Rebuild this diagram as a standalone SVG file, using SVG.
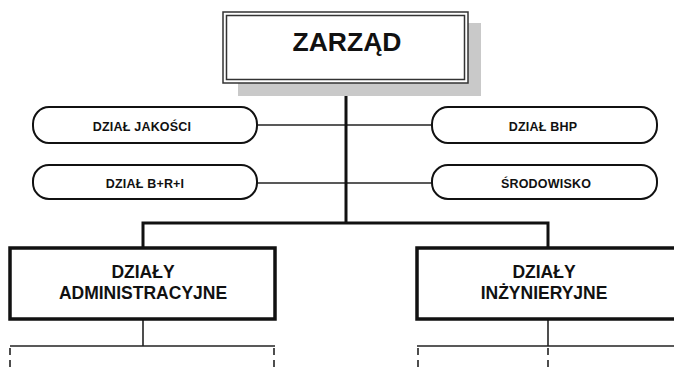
<svg xmlns="http://www.w3.org/2000/svg" width="674" height="369" viewBox="0 0 674 369">
  <style>
    .txt { font-family: "Liberation Sans", Arial, sans-serif; font-weight: bold; fill: #111; text-anchor: middle; }
    .small { font-size: 12.5px; letter-spacing: 0.2px; }
    .pill { fill: #fff; stroke: #111; stroke-width: 2; }
    .box { fill: #fff; stroke: #111; stroke-width: 3.5; }
    .thin { stroke: #222; stroke-width: 1.6; fill: none; }
    .thick { stroke: #111; stroke-width: 3; fill: none; }
    .dash { stroke: #222; stroke-width: 1.6; stroke-dasharray: 7 5; fill: none; }
  </style>
  <rect width="674" height="369" fill="#fff"/>

  <!-- connectors -->
  <g id="connectors">
    <line class="thin" x1="257" y1="125" x2="432" y2="125"/>
    <line class="thin" x1="257" y1="183" x2="432" y2="183"/>
    <line class="thick" x1="346" y1="82" x2="346" y2="223"/>
    <polyline class="thick" points="143,247 143,223 548,223 548,247"/>
    <line class="thin" x1="143" y1="320" x2="143" y2="346"/>
    <line class="thin" x1="548" y1="320" x2="548" y2="346"/>
    <line class="thin" x1="10" y1="346" x2="275" y2="346"/>
    <line class="thin" x1="417" y1="346" x2="674" y2="346"/>
    <line class="dash" x1="10" y1="348" x2="10" y2="369"/>
    <line class="dash" x1="274" y1="348" x2="274" y2="369"/>
    <line class="dash" x1="418" y1="348" x2="418" y2="369"/>
    <line class="dash" x1="548" y1="348" x2="548" y2="369"/>
  </g>

  <!-- top node with drop shadow and double frame -->
  <g id="zarzad">
    <rect x="238" y="23" width="243" height="73" fill="#c9c9c9"/>
    <rect x="223" y="12" width="245" height="71" fill="#fff" stroke="#333" stroke-width="1.5"/>
    <rect x="226.5" y="15.5" width="238" height="64" fill="none" stroke="#333" stroke-width="1.5"/>
    <text class="txt" x="347" y="51" font-size="26.5">ZARZĄD</text>
  </g>

  <g id="dzial-jakosci">
    <rect class="pill" x="33" y="107" width="224" height="36" rx="16" ry="17"/>
    <text class="txt small" x="142" y="131">DZIAŁ JAKOŚCI</text>
  </g>
  <g id="dzial-brl">
    <rect class="pill" x="33" y="165" width="224" height="34" rx="16" ry="16"/>
    <text class="txt small" x="145" y="188">DZIAŁ  B+R+I</text>
  </g>
  <g id="dzial-bhp">
    <rect class="pill" x="432" y="107" width="225" height="36" rx="16" ry="17"/>
    <text class="txt small" x="543" y="131">DZIAŁ  BHP</text>
  </g>
  <g id="srodowisko">
    <rect class="pill" x="432" y="165" width="225" height="34" rx="16" ry="16"/>
    <text class="txt small" x="546" y="188">ŚRODOWISKO</text>
  </g>

  <g id="dzialy-administracyjne">
    <rect class="box" x="10" y="248" width="265" height="71"/>
    <text class="txt" x="143" y="278" font-size="17.5">DZIAŁY</text>
    <text class="txt" x="143" y="299" font-size="17.5">ADMINISTRACYJNE</text>
  </g>
  <g id="dzialy-inzynieryjne">
    <rect class="box" x="417" y="248" width="262" height="71"/>
    <text class="txt" x="544" y="278" font-size="17.5">DZIAŁY</text>
    <text class="txt" x="544" y="299" font-size="17.5">INŻYNIERYJNE</text>
  </g>
</svg>
